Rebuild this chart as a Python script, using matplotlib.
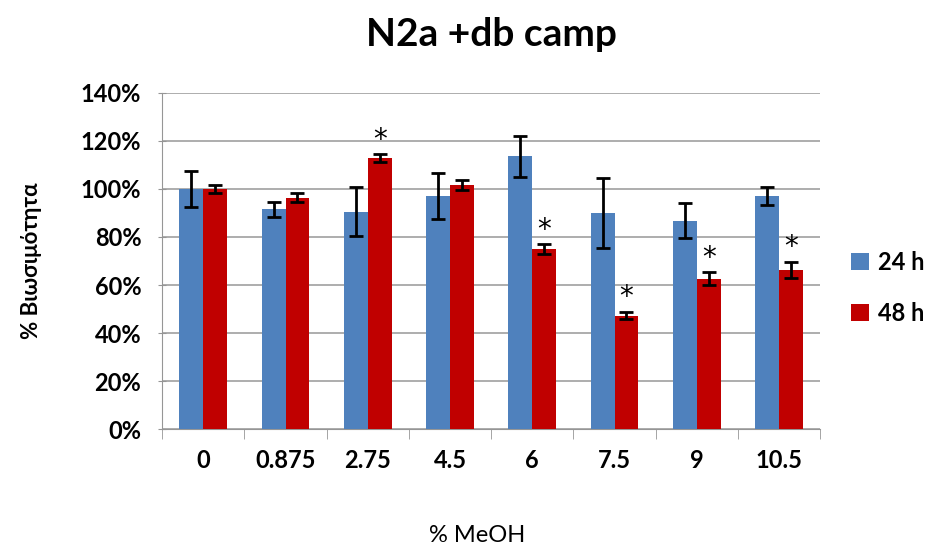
import matplotlib.pyplot as plt
import numpy as np

plt.rcParams['font.family'] = ['Lato', 'DejaVu Sans']

blue = '#4f81bd'
red = '#c00000'

categories = ['0', '0.875', '2.75', '4.5', '6', '7.5', '9', '10.5']
h24 = [100, 91.5, 90.5, 97, 113.5, 90, 86.7, 97]
h24_err = [7.6, 3.0, 10.2, 9.5, 8.4, 14.7, 7.3, 3.8]
h48 = [100, 96.4, 112.9, 101.7, 74.9, 47.2, 62.6, 66.4]
h48_err = [1.8, 1.7, 1.5, 2.0, 2.0, 1.5, 2.7, 3.3]
significant = [False, False, True, False, True, True, True, True]

fig = plt.figure(figsize=(9.32, 5.46), dpi=100)
ax = fig.add_axes([0.174, 0.214, 0.706, 0.616])

x = np.arange(len(categories))
w = 0.29
err_kw = dict(ecolor='black', elinewidth=2, capsize=5, capthick=2)
ax.bar(x - w / 2, h24, w, yerr=h24_err, color=blue, label='24 h',
       error_kw=err_kw, zorder=3)
ax.bar(x + w / 2, h48, w, yerr=h48_err, color=red, label='48 h',
       error_kw=err_kw, zorder=3)

# significance marks
for i, s in enumerate(significant):
    if s:
        ax.text(x[i] + w / 2, h48[i] + h48_err[i] + 0.3, '*', ha='center',
                va='bottom', fontsize=20, family='DejaVu Sans')

ax.set_xlim(-0.5, len(categories) - 0.5)
ax.set_ylim(0, 140)
ax.set_yticks(np.arange(0, 141, 20))
ax.set_yticklabels([f'{v}%' for v in range(0, 141, 20)], fontsize=17, fontweight='bold')
ax.set_xticks(x)
ax.set_xticklabels(categories, fontsize=17, fontweight='bold')
ax.set_xticks(np.arange(-0.5, len(categories)), minor=True)
ax.tick_params(axis='x', which='major', length=0, pad=14)
ax.tick_params(axis='x', which='minor', length=7, color='#969696', direction='out')
ax.tick_params(axis='y', length=6, color='#969696', direction='inout', pad=12)

ax.yaxis.grid(True, color='#a0a0a0', linewidth=1.2, zorder=0)
for sp in ['top', 'right']:
    ax.spines[sp].set_visible(False)
ax.spines['left'].set_color('#969696')
ax.spines['bottom'].set_color('#969696')

ax.set_title('N2a +db camp', fontsize=28, fontweight='bold', pad=34)
fig.text(0.512, 0.02, '% MeOH', fontsize=17, ha='center', va='center')
ax.set_ylabel('% Βιωσιμότητα', fontsize=16, fontweight='bold', labelpad=28)

ax.legend(loc='center left', bbox_to_anchor=(1.015, 0.42), frameon=False,
          prop={'size': 17, 'weight': 'bold'}, handlelength=0.75, handleheight=0.75,
          handletextpad=0.4, labelspacing=1.2)

plt.savefig('out.png', dpi=100)
